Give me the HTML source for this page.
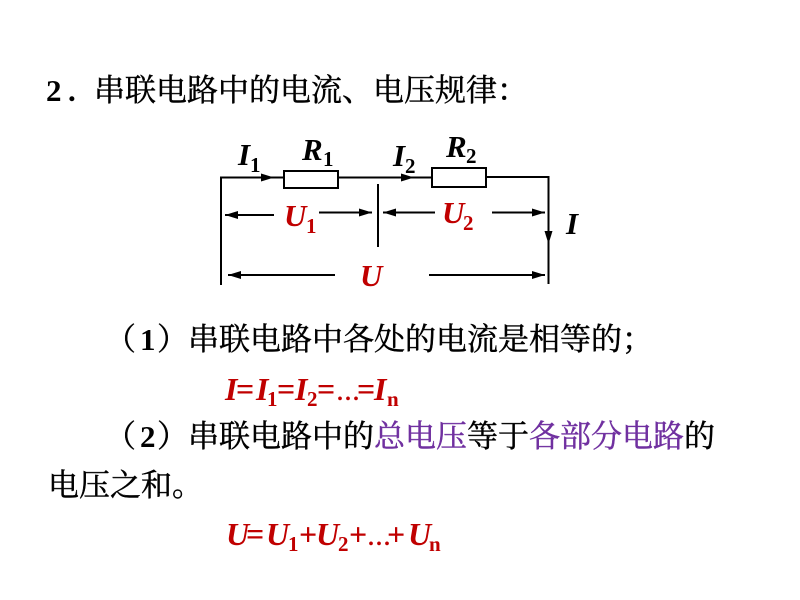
<!DOCTYPE html>
<html>
<head>
<meta charset="utf-8">
<style>
html,body{margin:0;padding:0;background:#fff}
svg{display:block}
.z{font-family:"Liberation Serif","Noto Serif CJK SC",serif;font-size:31px;fill:#000;stroke:#000;stroke-width:.45}
.b{font-family:"Liberation Serif",serif;font-weight:bold;fill:#000}
.i{font-family:"Liberation Serif",serif;font-weight:bold;font-style:italic;fill:#000}
.r{fill:#c00000}
.z .p{fill:#7030a0;stroke:#7030a0}
.n{font-weight:normal;font-style:normal}
.m{font-size:32px}
.s{font-size:21px}
</style>
</head>
<body>
<svg width="800" height="600" viewBox="0 0 800 600" xmlns="http://www.w3.org/2000/svg">
<defs>
<marker id="a" markerWidth="14" markerHeight="10" refX="13" refY="5" orient="auto-start-reverse" markerUnits="userSpaceOnUse"><path d="M0 1L13 5L0 9z" fill="#000"/></marker>
</defs>
<text class="b" x="46" y="101" font-size="31">2</text>
<text class="b" x="68" y="101" font-size="31">.</text>
<text class="z" x="94" y="101">串联电路中的电流、电压规律：</text>

<g fill="none" stroke="#000" stroke-width="2">
<path d="M221 285V177.500H284"/>
<path d="M338 177.500H432"/>
<path d="M486 177H548.500V284"/>
<rect x="284" y="171" width="54" height="17" fill="#fff"/>
<rect x="432" y="168" width="54" height="19" fill="#fff"/>
<path d="M378 184V247"/>
<path d="M248 177.500H274" marker-end="url(#a)"/>
<path d="M380 177.500H414" marker-end="url(#a)"/>
<path d="M274 215H225" marker-end="url(#a)"/>
<path d="M319 212.500H372" marker-end="url(#a)"/>
<path d="M435 212.500H383" marker-end="url(#a)"/>
<path d="M492 212.500H545" marker-end="url(#a)"/>
<path d="M335 275H228" marker-end="url(#a)"/>
<path d="M429 275H545" marker-end="url(#a)"/>
<path d="M548.500 200V244" marker-end="url(#a)"/>
</g>

<text class="i" x="238" y="165" font-size="31">I</text>
<text class="b" x="250" y="172" font-size="21">1</text>
<text class="i" x="302" y="160" font-size="31">R</text>
<text class="b" x="323" y="166" font-size="21">1</text>
<text class="i" x="393" y="166" font-size="31">I</text>
<text class="b" x="405" y="173" font-size="21">2</text>
<text class="i" x="446" y="157" font-size="31">R</text>
<text class="b" x="466" y="163" font-size="21">2</text>
<text class="i" x="566" y="234" font-size="31">I</text>
<text class="i r" x="284" y="226" font-size="31">U</text>
<text class="b r" x="306" y="233" font-size="21">1</text>
<text class="i r" x="442" y="223" font-size="31">U</text>
<text class="b r" x="463" y="230" font-size="21">2</text>
<text class="i r" x="360" y="286" font-size="31">U</text>

<text class="z" x="105" y="350">（</text>
<text class="b" x="140" y="350" font-size="31">1</text>
<text class="z" x="157" y="350">）串联电路中各处的电流是相等的；</text>

<g>
<text class="i r m" x="225" y="400">I</text>
<text class="b r m" x="236" y="400">=</text>
<text class="i r m" x="256" y="400">I</text>
<text class="b r s" x="267" y="406">1</text>
<text class="b r m" x="277" y="400">=</text>
<text class="i r m" x="295" y="400">I</text>
<text class="b r s" x="307" y="406">2</text>
<text class="b r m" x="317" y="400">=</text>
<text class="r n m" x="336" y="400" font-family="Liberation Serif, serif">...</text>
<text class="b r m" x="357" y="400">=</text>
<text class="i r m" x="374" y="400">I</text>
<text class="b r s" x="387" y="406">n</text>
</g>

<text class="z" x="105" y="447">（</text>
<text class="b" x="140" y="447" font-size="31">2</text>
<text class="z" x="157" y="447">）串联电路中的<tspan class="p">总电压</tspan>等于<tspan class="p">各部分电路</tspan>的</text>
<text class="z" x="48" y="496">电压之和。</text>

<g>
<text class="i r m" x="226" y="545">U</text>
<text class="b r m" x="246" y="545">=</text>
<text class="i r m" x="266" y="545">U</text>
<text class="b r s" x="288" y="551">1</text>
<text class="b r m" x="299" y="545">+</text>
<text class="i r m" x="316" y="545">U</text>
<text class="b r s" x="338" y="551">2</text>
<text class="b r m" x="349" y="545">+</text>
<text class="r n m" x="367" y="545" font-family="Liberation Serif, serif">...</text>
<text class="b r m" x="387" y="545">+</text>
<text class="i r m" x="408" y="545">U</text>
<text class="b r s" x="429" y="551">n</text>
</g>
</svg>
</body>
</html>
